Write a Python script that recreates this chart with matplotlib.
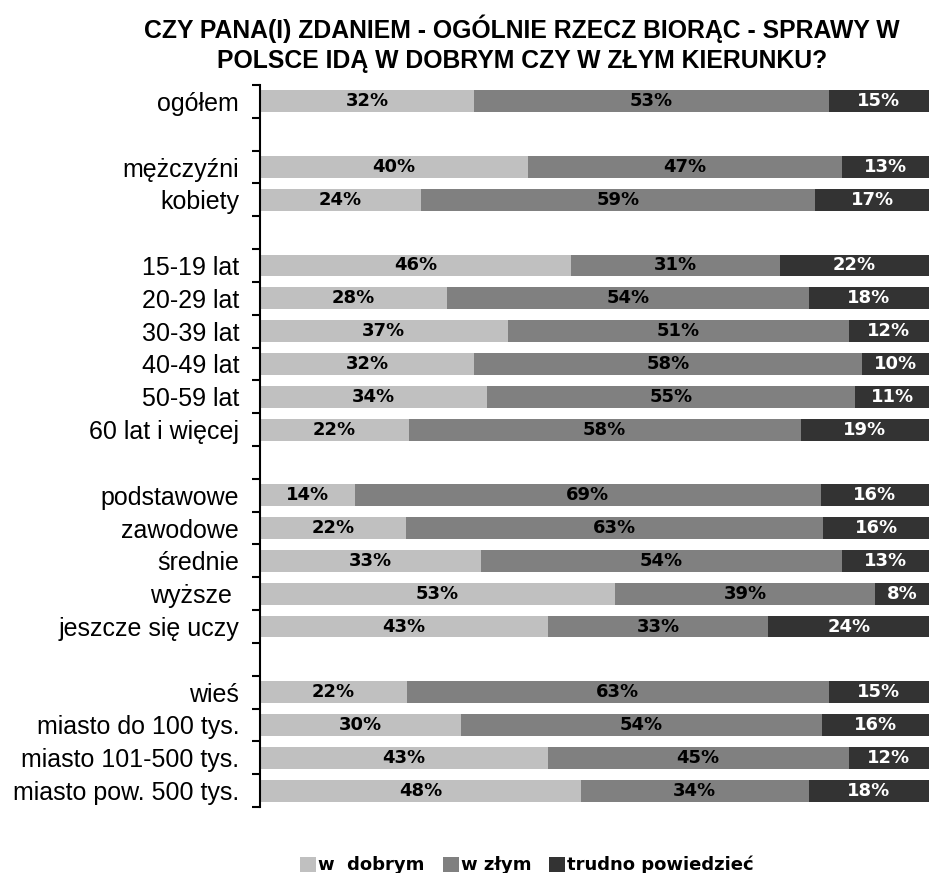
import numpy as np
import matplotlib
matplotlib.use('Agg')
import matplotlib.pyplot as plt
from matplotlib.patches import Patch

# row labels; '' marks the empty spacer rows between groups
categories = ['ogółem', '',
              'mężczyźni', 'kobiety', '',
              '15-19 lat', '20-29 lat', '30-39 lat', '40-49 lat', '50-59 lat', '60 lat i więcej', '',
              'podstawowe', 'zawodowe', 'średnie', 'wyższe ', 'jeszcze się uczy', '',
              'wieś', 'miasto do 100 tys.', 'miasto 101-500 tys.', 'miasto pow. 500 tys.']

n = np.nan
w_dobrym = [32, n, 40, 24, n, 46, 28, 37, 32, 34, 22, n, 14, 22, 33, 53, 43, n, 22, 30, 43, 48]
w_zlym = [53, n, 47, 59, n, 31, 54, 51, 58, 55, 58, n, 69, 63, 54, 39, 33, n, 63, 54, 45, 34]
trudno = [15, n, 13, 17, n, 22, 18, 12, 10, 11, 19, n, 16, 16, 13, 8, 24, n, 15, 16, 12, 18]

series_names = ['w  dobrym', 'w złym', 'trudno powiedzieć']
colors = ['#c0c0c0', '#808080', '#333333']
text_colors = ['black', 'black', 'white']

title = 'CZY PANA(I) ZDANIEM - OGÓLNIE RZECZ BIORĄC - SPRAWY W\nPOLSCE IDĄ W DOBRYM CZY W ZŁYM KIERUNKU?'

plt.rcParams['font.family'] = ['Liberation Sans', 'DejaVu Sans']

fig = plt.figure(figsize=(9.32, 8.73), dpi=100)
ax = fig.add_axes([260 / 932, 1 - 807 / 873, 669 / 932, 722 / 873])

data = np.array([w_dobrym, w_zlym, trudno], dtype=float)
# 100% stacked, like the original spreadsheet chart
shares = data / np.nansum(data, axis=0) * 100
y = np.arange(len(categories))

left = np.zeros(len(categories))
for i in range(3):
    vals = np.nan_to_num(shares[i])
    ax.barh(y, vals, left=left, height=0.67, color=colors[i], edgecolor='none')
    for row in range(len(categories)):
        if np.isnan(data[i, row]):
            continue
        ax.text(left[row] + vals[row] / 2, row, '{0:.0f}%'.format(data[i, row]),
                ha='center', va='center', fontsize=13, fontweight='bold',
                family='DejaVu Sans', color=text_colors[i])
    left += vals

ax.set_xlim(0, 100)
ax.set_ylim(len(categories) - 0.5, -0.5)
ax.set_xticks([])
ax.set_yticks(y)
ax.set_yticklabels(categories, fontsize=18)
ax.set_yticks(np.arange(-0.5, len(categories), 1.0), minor=True)
ax.tick_params(axis='y', which='major', length=0, pad=15)
ax.tick_params(axis='y', which='minor', length=6, width=1.5, direction='out')
for side in ['top', 'right', 'bottom']:
    ax.spines[side].set_visible(False)
ax.spines['left'].set_linewidth(1.5)

fig.text(522 / 932, 1 - 44 / 873, title, ha='center', va='center',
         fontsize=17.8, fontweight='bold', linespacing=1.3)

handles = [Patch(facecolor=c, edgecolor='none') for c in colors]
fig.legend(handles, series_names, loc='center', bbox_to_anchor=(527 / 932, 1 - 865 / 873),
           ncol=3, frameon=False, handlelength=0.9, handleheight=0.9, handletextpad=0.1,
           columnspacing=1.0, borderpad=0, prop={'family': 'DejaVu Sans', 'weight': 'bold', 'size': 13})

fig.savefig('out.png', dpi=100)
